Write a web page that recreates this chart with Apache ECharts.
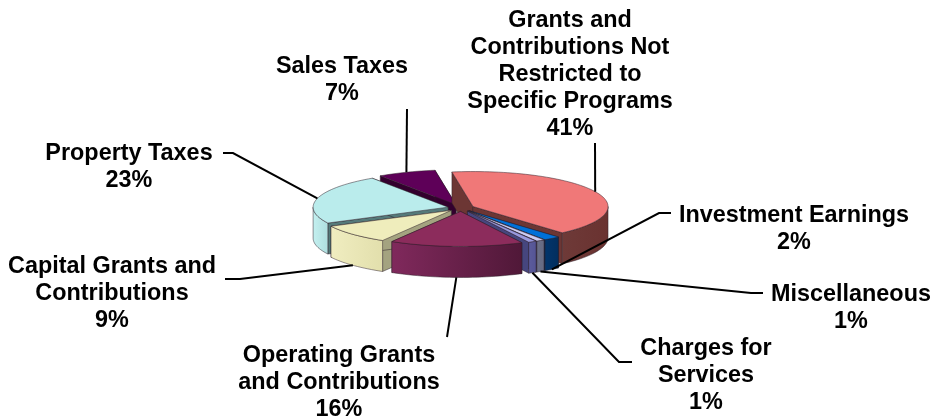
<!DOCTYPE html>
<html>
<head>
<meta charset="utf-8">
<style>html,body{margin:0;padding:0;background:#fff}#chart{width:934px;height:417px}</style>
<script src="https://cdn.jsdelivr.net/npm/echarts@6/dist/echarts.min.js"></script>
</head>
<body>
<div id="chart"></div>
<script>
// Revenue sources, clockwise from the top of the pie
const categories = [
  'Grants and\nContributions Not\nRestricted to\nSpecific Programs',
  'Investment Earnings',
  'Miscellaneous',
  'Charges for\nServices',
  'Operating Grants\nand Contributions',
  'Capital Grants and\nContributions',
  'Property Taxes',
  'Sales Taxes'
];
const shares = [41, 2, 1, 1, 16, 9, 23, 7];

// Slice colours: top face, outer wall (left and right end of the gradient), cut face
const topColors = ['#F07878', '#0070D8', '#CCCCF2', '#9898DC', '#8C2C5C', '#EFEDBC', '#BAECEC', '#5E0058'];
const wallLeft  = ['#6E3A38', '#02356C', '#6C7088', '#5C5C9C', '#80295C', '#F0EDC0', '#C4F0F0', '#40003A'];
const wallRight = ['#6A3230', '#022E5E', '#666A82', '#545494', '#501838', '#E2DFAC', '#AEDEDE', '#40003A'];
const cutColors = ['#6C3634', '#02305F', '#5C6078', '#46467E', '#5E1C44', '#A4A380', '#557A7A', '#33002E'];

// Far slices are painted first so nearer ones overlap them
const paintOrder = [7, 6, 0, 1, 2, 3, 5, 4];

// Pie shape
const centerX = 461, centerY = 208;
const radiusX = 135, radiusY = 35, depth = 31, explode = 13.3;
const startAngle = -9;

// Label placement: text centre and the point where its leader line leaves the label
const labelLayout = [
  { x: 570, y: 75,  leader: [[595, 143]] },
  { x: 794, y: 229, leader: [[671, 213], [659, 213]] },
  { x: 851, y: 308, leader: [[763, 293], [751, 293]] },
  { x: 706, y: 376, leader: [[632, 362], [619, 362]] },
  { x: 339, y: 383, leader: [[447, 337]] },
  { x: 112, y: 294, leader: [[225, 279], [240, 279]] },
  { x: 129, y: 167, leader: [[223, 153], [233, 153]] },
  { x: 342, y: 80,  leader: [[407, 109]] }
];

const total = shares.reduce(function (a, b) { return a + b; }, 0);
const sweeps = [];
shares.reduce(function (from, v) {
  const to = from + v / total * 360;
  sweeps.push([from, to]);
  return to;
}, startAngle);

// Angles run clockwise from the top of the ellipse
function rimPoint(tip, deg, drop) {
  const r = deg * Math.PI / 180;
  return [tip[0] + Math.sin(r) * radiusX, tip[1] - Math.cos(r) * radiusY + (drop || 0)];
}
function arc(tip, from, to, drop) {
  const pts = [];
  const n = Math.max(2, Math.ceil((to - from) / 2));
  for (let i = 0; i <= n; i++) pts.push(rimPoint(tip, from + (to - from) * i / n, drop));
  return pts;
}
function tipOf(i) {
  const mid = (sweeps[i][0] + sweeps[i][1]) / 2 * Math.PI / 180;
  return [
    centerX + Math.sin(mid) * explode,
    centerY - Math.cos(mid) * explode * radiusY / radiusX
  ];
}
function face(points, fill, stroke, z2) {
  return {
    type: 'polygon',
    z2: z2,
    shape: { points: points },
    style: { fill: fill, stroke: stroke, lineWidth: 0.8, lineJoin: 'round' }
  };
}

function renderSlice(params, api) {
  const i = api.value(0);
  const layer = params.dataIndex * 5 + 1;
  const tip = tipOf(i);
  const from = sweeps[i][0], to = sweeps[i][1];
  const edge = 'rgba(45,30,40,0.62)';
  const children = [];

  // Cut faces along both radial edges
  [from, to].forEach(function (deg) {
    const rim = rimPoint(tip, deg);
    children.push(face(
      [tip, rim, [rim[0], rim[1] + depth], [tip[0], tip[1] + depth]],
      cutColors[i], edge, layer
    ));
  });

  // Outer wall on the part of the rim that faces the viewer
  const a = Math.max(from, 90), b = Math.min(to, 270);
  if (b > a) {
    const upper = arc(tip, a, b, 0);
    const lower = arc(tip, a, b, depth).reverse();
    children.push(face(
      upper.concat(lower),
      new echarts.graphic.LinearGradient(0, 0, 1, 0, [
        { offset: 0, color: wallLeft[i] },
        { offset: 1, color: wallRight[i] }
      ]),
      edge, layer + 1
    ));
  }

  // Top face
  children.push(face([tip].concat(arc(tip, from, to, 0)), topColors[i], edge, layer + 2));

  // Leader line from the label to the middle of the slice's visible rim
  const mid = (from + to) / 2;
  const anchor = rimPoint(tip, mid, (mid > 90 && mid < 270) ? depth : 0);
  children.push({
    type: 'polyline',
    z2: 100,
    shape: { points: labelLayout[i].leader.concat([anchor]) },
    style: { fill: null, stroke: '#000', lineWidth: 2 }
  });

  // Category name and share
  children.push({
    type: 'text',
    z2: 101,
    x: labelLayout[i].x,
    y: labelLayout[i].y,
    style: {
      text: categories[i] + '\n' + Math.round(shares[i] / total * 100) + '%',
      fontFamily: '"Liberation Sans", Arial, sans-serif',
      fontWeight: 'bold',
      fontSize: 23.4,
      lineHeight: 27,
      fill: '#000',
      align: 'center',
      verticalAlign: 'middle'
    }
  });
  return { type: 'group', children: children };
}

const chart = echarts.init(document.getElementById('chart'), null, { renderer: 'canvas' });
chart.setOption({
  animation: false,
  backgroundColor: '#fff',
  series: [{
    type: 'custom',
    coordinateSystem: 'none',
    silent: true,
    renderItem: renderSlice,
    data: paintOrder.map(function (i) { return [i]; })
  }]
});
</script>
</body>
</html>
